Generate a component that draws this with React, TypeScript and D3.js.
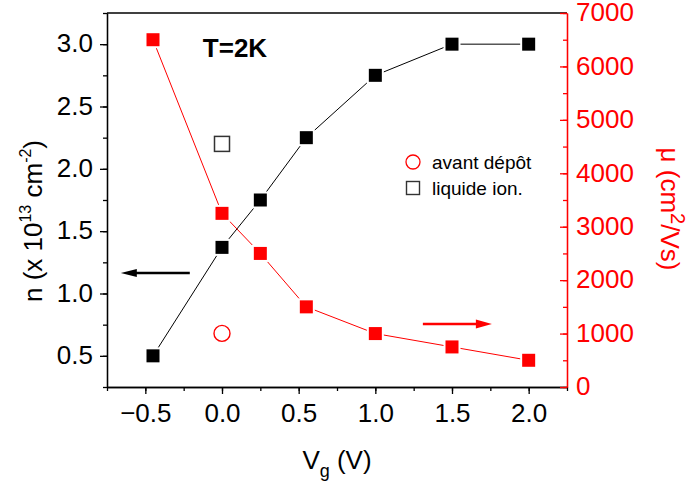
import React, { useEffect, useRef } from 'react';
import * as d3 from 'd3';

// Data
const vg = [-0.45, 0, 0.25, 0.55, 1.0, 1.5, 2.0];
const density = [0.5, 1.37, 1.75, 2.25, 2.75, 3.0, 3.0];
const mobility = [6500, 3250, 2500, 1500, 1000, 750, 500];
const beforeVg = [0];
const beforeDensity = [0.68];
const ionicVg = [0];
const ionicDensity = [2.2];
const xTicks = [-0.5, 0, 0.5, 1.0, 1.5, 2.0];
const xMinor = [-0.75, -0.5, -0.25, 0, 0.25, 0.5, 0.75, 1.0, 1.25, 1.5, 1.75, 2.0, 2.25];
const yLeftTicks = [0.5, 1.0, 1.5, 2.0, 2.5, 3.0];
const yLeftMinor = [0.25, 0.5, 0.75, 1.0, 1.25, 1.5, 1.75, 2.0, 2.25, 2.5, 2.75, 3.0, 3.25];
const yRightTicks = [0, 1000, 2000, 3000, 4000, 5000, 6000, 7000];
const yRightMinor = [0, 500, 1000, 1500, 2000, 2500, 3000, 3500, 4000, 4500, 5000, 5500, 6000, 6500, 7000];
const legendLabels = ['avant dépôt', 'liquide ion.'];
const tempLabel = 'T=2K';

const FONT = '"Liberation Sans", Arial, sans-serif';
const RED = '#ff0000';

export default function App() {
  const ref = useRef<SVGSVGElement>(null);
  const W = 693, H = 481;
  const m = { l: 107, r: 567, t: 13, b: 387 };
  const x = d3.scaleLinear().domain([-0.75, 2.25]).range([m.l, m.r]);
  const yL = d3.scaleLinear().domain([0.25, 3.25]).range([m.b, m.t]);
  const yR = d3.scaleLinear().domain([0, 7000]).range([m.b, m.t]);

  useEffect(() => {
    const svg = d3.select(ref.current);
    svg.selectAll('*').remove();

    const styleAxis = (g: any, color: string) => {
      g.attr('font-family', FONT).attr('font-size', 26);
      g.selectAll('line').attr('stroke', color).attr('stroke-width', 1.3);
      g.selectAll('path').attr('stroke', color).attr('stroke-width', 1.3);
      g.selectAll('text').attr('fill', color);
    };

    // top frame line
    svg.append('line')
      .attr('x1', m.l).attr('x2', m.r).attr('y1', m.t).attr('y2', m.t)
      .attr('stroke', '#000').attr('stroke-width', 1.3);

    // bottom axis
    const gBm = svg.append('g').attr('transform', `translate(0,${m.b})`)
      .call(d3.axisBottom(x).tickValues(xMinor).tickSize(4).tickSizeOuter(0).tickFormat(() => ''));
    styleAxis(gBm, '#000');
    const gB = svg.append('g').attr('transform', `translate(0,${m.b})`)
      .call(d3.axisBottom(x).tickValues(xTicks).tickSize(7).tickSizeOuter(0).tickPadding(10).tickFormat(d3.format('.1f')));
    styleAxis(gB, '#000');

    // left axis
    const gLm = svg.append('g').attr('transform', `translate(${m.l},0)`)
      .call(d3.axisLeft(yL).tickValues(yLeftMinor).tickSize(4).tickSizeOuter(0).tickFormat(() => ''));
    styleAxis(gLm, '#000');
    const gL = svg.append('g').attr('transform', `translate(${m.l},0)`)
      .call(d3.axisLeft(yL).tickValues(yLeftTicks).tickSize(7).tickSizeOuter(0).tickPadding(7).tickFormat(d3.format('.1f')));
    styleAxis(gL, '#000');
    gL.selectAll('text').attr('dy', '0.29em');

    // right axis (ticks inward)
    const gRm = svg.append('g').attr('transform', `translate(${m.r},0)`)
      .call(d3.axisRight(yR).tickValues(yRightMinor).tickSize(-4).tickSizeOuter(0).tickFormat(() => ''));
    styleAxis(gRm, RED);
    const gR = svg.append('g').attr('transform', `translate(${m.r},0)`)
      .call(d3.axisRight(yR).tickValues(yRightTicks).tickSize(-7).tickSizeOuter(0).tickPadding(9).tickFormat(d3.format('d')));
    styleAxis(gR, RED);
    gR.selectAll('text').attr('dy', '0.3em');
  }, []);

  const line = (ys: number[], ysc: any) =>
    d3.line<number>().x((_, i) => x(vg[i])).y((d) => ysc(d))(ys) || '';

  const sq = 13;
  const halo = 17;

  const arrowHead = (tipX: number, tipY: number, dir: number, len: number, half: number) =>
    `M${tipX},${tipY} L${tipX - dir * len},${tipY - half} L${tipX - dir * len},${tipY + half} Z`;

  // annotation anchors in data coordinates
  const blackArrow = { x0: -0.21, x1: -0.66, y: 1.165 };
  const redArrow = { x0: 1.31, x1: 1.76, y: 0.755 };
  const tempPos = { x: -0.125, y: 2.895 };

  return (
    <svg ref={null as any} width={W} height={H} style={{ position: 'absolute', left: 0, top: 0, background: '#fff' }}>
      <g ref={ref as any} />
      {/* black series */}
      <path d={line(density, yL)} fill="none" stroke="#000" strokeWidth={1} />
      {vg.map((v, i) => (
        <rect key={'bh' + i} x={x(v) - halo / 2} y={yL(density[i]) - halo / 2} width={halo} height={halo} fill="#fff" />
      ))}
      {vg.map((v, i) => (
        <rect key={'b' + i} x={x(v) - sq / 2} y={yL(density[i]) - sq / 2} width={sq} height={sq} fill="#000" />
      ))}
      {/* red series */}
      <path d={line(mobility, yR)} fill="none" stroke={RED} strokeWidth={1} />
      {vg.map((v, i) => (
        <rect key={'rh' + i} x={x(v) - halo / 2} y={yR(mobility[i]) - halo / 2} width={halo} height={halo} fill="#fff" />
      ))}
      {vg.map((v, i) => (
        <rect key={'r' + i} x={x(v) - sq / 2} y={yR(mobility[i]) - sq / 2} width={sq} height={sq} fill={RED} />
      ))}
      {/* open markers */}
      {beforeVg.map((v, i) => (
        <circle key={'c' + i} cx={x(v)} cy={yL(beforeDensity[i])} r={8} fill="none" stroke={RED} strokeWidth={1.4} />
      ))}
      {ionicVg.map((v, i) => (
        <rect key={'o' + i} x={x(v) - 7.5} y={yL(ionicDensity[i]) - 7.5} width={15} height={15} fill="none" stroke="#333" strokeWidth={1.5} />
      ))}
      {/* arrows */}
      <line x1={x(blackArrow.x0)} x2={x(blackArrow.x1) + 12} y1={yL(blackArrow.y)} y2={yL(blackArrow.y)} stroke="#000" strokeWidth={2.6} />
      <path d={arrowHead(x(blackArrow.x1), yL(blackArrow.y), -1, 16, 4)} fill="#000" />
      <line x1={x(redArrow.x0)} x2={x(redArrow.x1) - 12} y1={yL(redArrow.y)} y2={yL(redArrow.y)} stroke={RED} strokeWidth={2.6} />
      <path d={arrowHead(x(redArrow.x1), yL(redArrow.y), 1, 16, 4.5)} fill={RED} />
      {/* temperature label */}
      <text x={x(tempPos.x)} y={yL(tempPos.y)} fontFamily={FONT} fontSize={26} fontWeight="bold">{tempLabel}</text>
      {/* legend */}
      <circle cx={413} cy={162} r={7} fill="none" stroke={RED} strokeWidth={1.3} />
      <text x={432} y={168.5} fontFamily={FONT} fontSize={19}>{legendLabels[0]}</text>
      <rect x={406.5} y={181.5} width={13} height={13} fill="none" stroke="#333" strokeWidth={1.4} />
      <text x={432} y={194.5} fontFamily={FONT} fontSize={19}>{legendLabels[1]}</text>
      {/* axis titles */}
      <text x={337} y={469} textAnchor="middle" fontFamily={FONT} fontSize={26}>
        V<tspan fontSize={18} dy={8}>g</tspan><tspan dy={-8}> (V)</tspan>
      </text>
      <text transform="translate(42,221) rotate(-90)" textAnchor="middle" fontFamily={FONT} fontSize={26}>
        n (x 10<tspan fontSize={16} dy={-11}>13</tspan><tspan dy={11}> cm</tspan><tspan fontSize={16} dy={-11}>-2</tspan><tspan dy={11}>)</tspan>
      </text>
      <text transform="translate(661,209) rotate(90)" textAnchor="middle" fontFamily={FONT} fontSize={26} fill={RED}>
        μ (cm<tspan fontSize={20} dy={-10}>2</tspan><tspan dy={10}>/Vs)</tspan>
      </text>
    </svg>
  );
}
